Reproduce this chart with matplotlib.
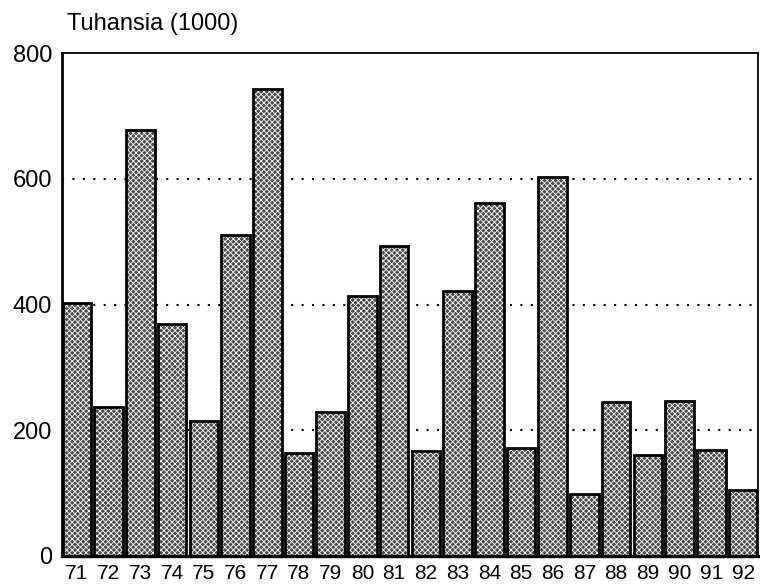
import matplotlib
matplotlib.use("Agg")
import matplotlib.pyplot as plt

years = ["71", "72", "73", "74", "75", "76", "77", "78", "79", "80", "81",
         "82", "83", "84", "85", "86", "87", "88", "89", "90", "91", "92"]
values = [402, 237, 677, 369, 215, 510, 742, 164, 229, 413, 493,
          167, 421, 561, 172, 603, 99, 245, 161, 246, 168, 105]
yticks = [0, 200, 400, 600, 800]

plt.rcParams['font.family'] = ['Liberation Sans', 'DejaVu Sans']
plt.rcParams['hatch.linewidth'] = 0.6

fig = plt.figure(figsize=(7.6, 5.86), dpi=100)
ax = fig.add_axes([62/760, 30/586, (758-62)/760, (556-53)/586])

x = list(range(len(years)))
w = 0.9
ax.bar(x, values, width=w, color='#4a4a4a', edgecolor='white',
       hatch='xxxxxx', linewidth=0, zorder=2)
ax.bar(x, values, width=w, fill=False, edgecolor='black',
       linewidth=2.0, zorder=3)

for yv in [200, 400, 600]:
    ax.axhline(yv, color='black', linestyle=(0, (1, 4)), linewidth=1.5, zorder=1)

ax.set_xlim(-w/2 - 0.02, len(years) - 1 + w/2 + 0.02)
ax.set_ylim(0, 800)
ax.set_xticks(x)
ax.set_xticklabels(years, fontsize=15)
ax.set_yticks(yticks)
ax.set_yticklabels([str(v) for v in yticks], fontsize=17)
ax.tick_params(axis='x', length=0, pad=6)
ax.tick_params(axis='y', length=0, pad=7)
for s in ax.spines.values():
    s.set_linewidth(1.3)
ax.spines['left'].set_linewidth(2)
ax.spines['bottom'].set_linewidth(2.4)

fig.text(67/760, 1 - 24/586, "Tuhansia (1000)", fontsize=17, ha='left', va='center')

fig.savefig("out.png", dpi=100)
